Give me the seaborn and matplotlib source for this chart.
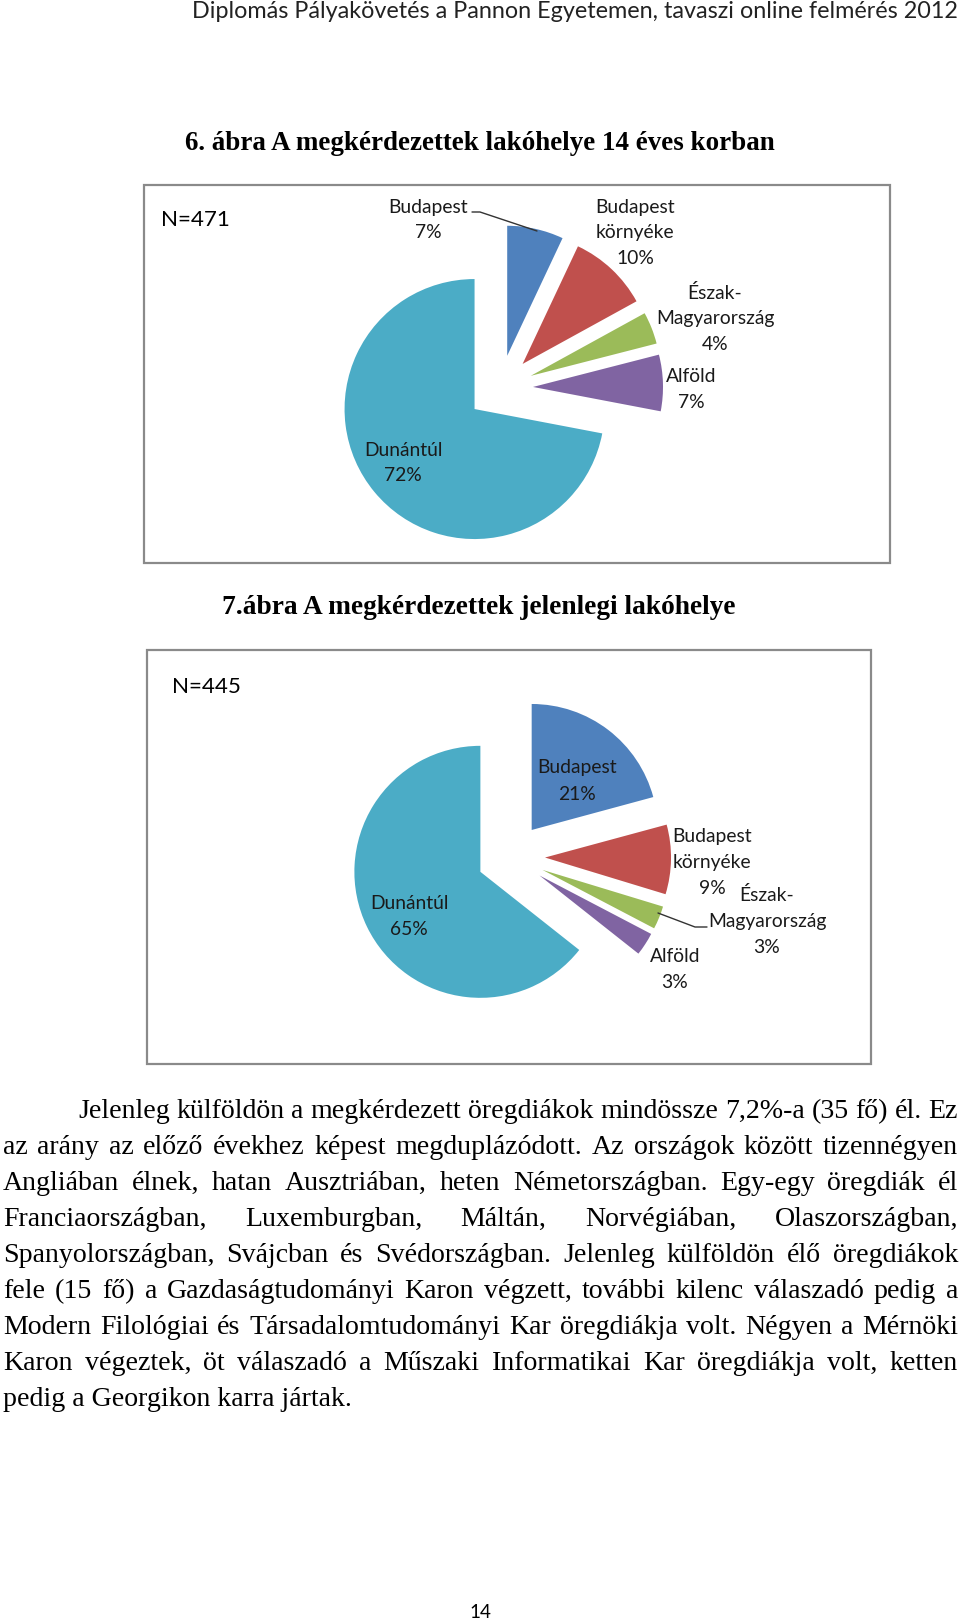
import matplotlib
matplotlib.use("Agg")
import matplotlib.pyplot as plt
import seaborn as sns
from matplotlib.patches import Rectangle
from matplotlib.lines import Line2D

# ---------------- data ----------------
categories = ["Budapest", "Budapest\nkörnyéke", "Észak-\nMagyarország", "Alföld", "Dunántúl"]
values_14 = [7, 10, 4, 7, 72]          # 6. ábra, N=471
values_now = [21, 9, 3, 3, 65]         # 7. ábra, N=445
n_14 = 471
n_now = 445
colors = ["#4F81BD", "#C0504D", "#9BBB59", "#8064A2", "#4BACC6"]

header = "Diplomás Pályakövetés a Pannon Egyetemen, tavaszi online felmérés 2012"
title1 = "6. ábra A megkérdezettek lakóhelye 14 éves korban"
title2 = "7.ábra A megkérdezettek jelenlegi lakóhelye"
body_lines = [
    "Jelenleg külföldön a megkérdezett öregdiákok mindössze 7,2%-a (35 fő) él. Ez",
    "az arány az előző évekhez képest megduplázódott. Az országok között tizennégyen",
    "Angliában élnek, hatan Ausztriában, heten Németországban. Egy-egy öregdiák él",
    "Franciaországban, Luxemburgban, Máltán, Norvégiában, Olaszországban,",
    "Spanyolországban, Svájcban és Svédországban. Jelenleg külföldön élő öregdiákok",
    "fele (15 fő) a Gazdaságtudományi Karon végzett, további kilenc válaszadó pedig a",
    "Modern Filológiai és Társadalomtudományi Kar öregdiákja volt. Négyen a Mérnöki",
    "Karon végeztek, öt válaszadó a Műszaki Informatikai Kar öregdiákja volt, ketten",
    "pedig a Georgikon karra jártak.",
]
page_no = "14"

# ---------------- setup ----------------
sns.set_theme(style="white")
pal = sns.color_palette(colors)
SANS = ["Lato", "DejaVu Sans"]
SERIF = ["Liberation Serif", "DejaVu Serif"]
plt.rcParams["font.family"] = SANS

W, H = 960, 1623
fig = plt.figure(figsize=(W / 100, H / 100), dpi=100)
fig.patch.set_facecolor("white")
renderer = fig.canvas.get_renderer()


def fx(x):
    return x / W


def fy(y):
    return 1 - y / H


def width_of(txt, size, family, weight="normal"):
    t = fig.text(0, 0, txt, fontsize=size, family=family, weight=weight)
    w = t.get_window_extent(renderer).width
    t.remove()
    return w


def fit_size(txt, target, family, weight="normal"):
    return 10 * target / width_of(txt, 10, family, weight)


def put(txt, x, y, size, family, ha="center", va="center", weight="normal", color="#111111"):
    return fig.text(fx(x), fy(y), txt, fontsize=size, family=family, ha=ha, va=va,
                    weight=weight, color=color)


# ---------------- header / titles ----------------
hs = fit_size(header, 764, SANS)
put(header, 958, 12, hs, SANS, ha="right", color="#222222")
put(title1, 480, 143, fit_size(title1, 594, SERIF, "bold"), SERIF, weight="bold", color="black")
put(title2, 479, 608, fit_size(title2, 518, SERIF, "bold"), SERIF, weight="bold", color="black")

# ---------------- chart frames ----------------
for (x0, y0, x1, y1) in [(144, 185, 890, 563), (147, 650, 871, 1064)]:
    fig.patches.append(Rectangle((fx(x0), fy(y1)), (x1 - x0) / W, (y1 - y0) / H,
                                 transform=fig.transFigure, fill=False,
                                 edgecolor="#8a8a8a", linewidth=1.6, zorder=0))


def draw_pie(vals, cx, cy, r, explode):
    L = 1.6
    ax = fig.add_axes([fx(cx - L * r), fy(cy + L * r), 2 * L * r / W, 2 * L * r / H])
    ax.pie(vals, explode=[explode] * len(vals), startangle=90, counterclock=False,
           colors=pal, wedgeprops=dict(linewidth=0))
    ax.set_xlim(-L, L)
    ax.set_ylim(-L, L)
    ax.set_aspect("equal")
    ax.axis("off")
    return ax


lab_size = fit_size("Budapest", 80, SANS)


def label(lines, x, y0, dy=25.5):
    for i, ln in enumerate(lines):
        put(ln, x, y0 + i * dy, lab_size, SANS, color="#1a1a1a")


# chart 1
draw_pie(values_14, 500, 388, 130, 0.254)
put(f"N={n_14}", 161, 220, fit_size(f"N={n_14}", 69, SANS), SANS, ha="left", color="black")
pos1 = [(428, 207), (635, 207), (715, 293), (691, 377), (403, 450)]
for cat, v, (x, y) in zip(categories, values_14, pos1):
    label(cat.split("\n") + [f"{v}%"], x, y)
fig.add_artist(Line2D([fx(472), fx(480), fx(537)], [fy(212), fy(212), fy(231)],
                      color="#333333", linewidth=1.0))

# chart 2
draw_pie(values_now, 511, 857, 126, 0.27)
put(f"N={n_now}", 172, 687, fit_size(f"N={n_now}", 69, SANS), SANS, ha="left", color="black")
pos2 = [(577, 768), (712, 836), (767, 895), (675, 956), (409, 903)]
for cat, v, (x, y) in zip(categories, values_now, pos2):
    label(cat.split("\n") + [f"{v}%"], x, y, dy=26.5)
fig.add_artist(Line2D([fx(658), fx(695), fx(707)], [fy(913), fy(927), fy(927)],
                      color="#333333", linewidth=1.0))

# ---------------- body text (justified) ----------------
body_size = fit_size(body_lines[-1], 350, SERIF)
left, right = 3, 958
base0, step = 1118, 36.0
for i, ln in enumerate(body_lines):
    y = base0 + i * step
    x_start = 78 if i == 0 else left
    if i == len(body_lines) - 1:
        put(ln, x_start, y, body_size, SERIF, ha="left", va="baseline", color="black")
        continue
    words = ln.split(" ")
    widths = [width_of(w, body_size, SERIF) for w in words]
    gap = (right - x_start - sum(widths)) / (len(words) - 1)
    x = x_start
    for w, wd in zip(words, widths):
        put(w, x, y, body_size, SERIF, ha="left", va="baseline", color="black")
        x += wd + gap

put(page_no, 480, 1612, fit_size(page_no, 22, SANS), SANS, color="black")

fig.savefig("out.png", dpi=100, facecolor="white")
